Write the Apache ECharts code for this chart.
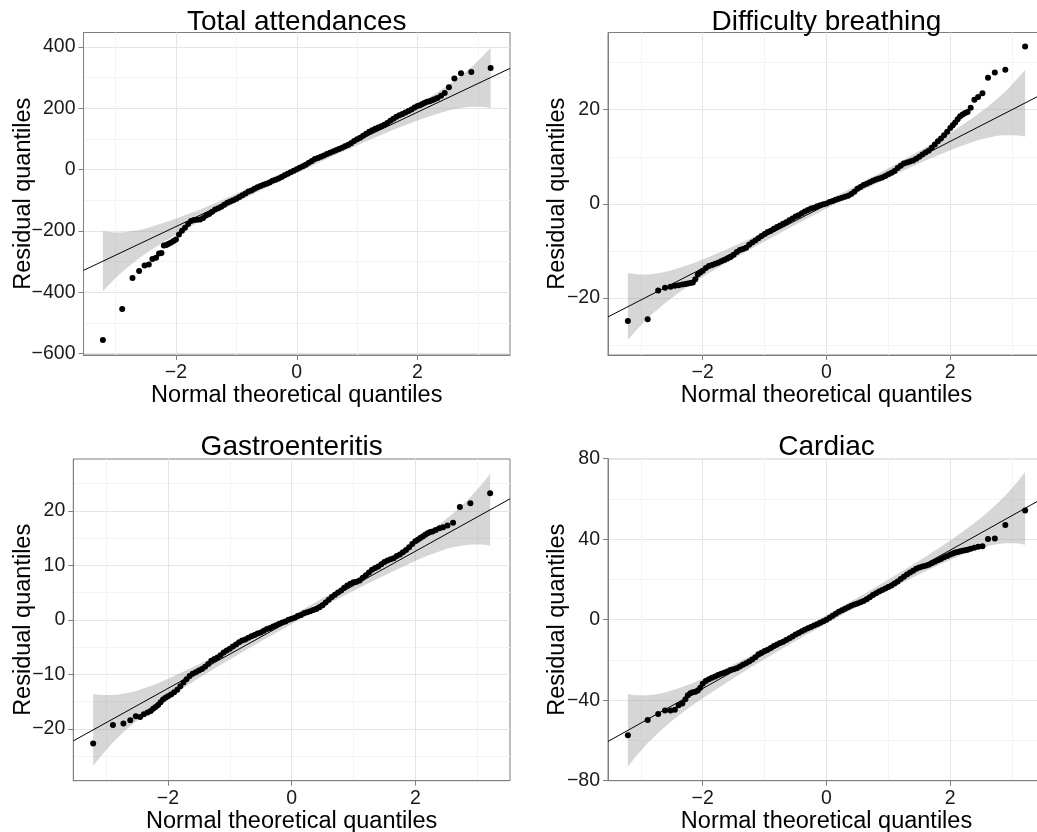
<!DOCTYPE html>
<html>
<head>
<meta charset="utf-8">
<title>Residual Q-Q plots</title>
<script src="https://cdn.jsdelivr.net/npm/echarts@6/dist/echarts.min.js"></script>
<style>
  html, body { margin: 0; padding: 0; background: #ffffff; }
  #chart { width: 1037px; height: 832px; }
</style>
</head>
<body>
<div id="chart"></div>
<script>
// ---------- data ----------
const panelTitles = ['Total attendances', 'Difficulty breathing', 'Gastroenteritis', 'Cardiac'];
const xAxisTitle = 'Normal theoretical quantiles';
const yAxisTitle = 'Residual quantiles';

// theoretical normal quantiles shared by all four panels
const theoreticalQuantiles = [
  -3.21, -2.89, -2.72, -2.61, -2.52, -2.45, -2.39, -2.33, -2.28, -2.24, -2.20, -2.16, -2.12, -2.08, -2.04,
  -2.00, -1.95, -1.90, -1.85, -1.80, -1.75, -1.70, -1.65, -1.60, -1.55, -1.50, -1.45, -1.40, -1.35, -1.30,
  -1.25, -1.20, -1.15, -1.10, -1.05, -1.00, -0.95, -0.90, -0.85, -0.80, -0.75, -0.70, -0.65, -0.60, -0.55,
  -0.50, -0.45, -0.40, -0.35, -0.30, -0.25, -0.20, -0.15, -0.10, -0.05, 0.00, 0.05, 0.10, 0.15, 0.20,
  0.25, 0.30, 0.35, 0.40, 0.45, 0.50, 0.55, 0.60, 0.65, 0.70, 0.75, 0.80, 0.85, 0.90, 0.95,
  1.00, 1.05, 1.10, 1.15, 1.20, 1.25, 1.30, 1.35, 1.40, 1.45, 1.50, 1.55, 1.60, 1.65, 1.70,
  1.75, 1.80, 1.85, 1.90, 1.95, 2.00,
  2.04, 2.08, 2.12, 2.16, 2.20, 2.24, 2.28, 2.33, 2.39, 2.45, 2.52, 2.61, 2.72, 2.89, 3.21
];

// residual quantiles, one array per outcome
const residTotal = [
  -556, -455, -354, -331, -313, -310, -292, -288, -274, -272, -248, -246, -242, -238, -233,
  -228, -212, -200, -190, -178, -168, -165, -164, -163, -158, -150, -145, -138, -130, -126,
  -121, -115, -108, -104, -100, -95, -90, -84, -78, -72, -68, -63, -58, -54, -50,
  -46, -42, -37, -33, -29, -24, -19, -14, -9, -4, 1, 6, 11, 16, 22,
  28, 34, 38, 42, 46, 51, 55, 59, 63, 67, 71, 76, 80, 86, 93,
  99, 104, 110, 117, 123, 128, 133, 137, 141, 146, 152, 159, 166, 172, 177,
  181, 186, 191, 196, 202, 207,
  210, 214, 218, 221, 223, 226, 229, 233, 241, 250, 268, 297, 314, 318, 331
];
const residBreathing = [
  -24.9, -24.5, -18.4, -17.8, -17.6, -17.4, -17.3, -17.1, -17.0, -16.9, -16.8, -16.7, -16.0, -15.0, -14.6,
  -14.2, -13.6, -13.2, -13.0, -12.7, -12.5, -12.2, -11.9, -11.6, -11.3, -10.8, -10.2, -9.8, -9.6, -9.3,
  -8.7, -8.2, -7.8, -7.3, -6.8, -6.4, -6.0, -5.7, -5.3, -4.9, -4.6, -4.2, -3.9, -3.5, -3.1,
  -2.7, -2.4, -2.0, -1.6, -1.3, -1.0, -0.8, -0.5, -0.3, -0.1, 0.1, 0.4, 0.6, 0.9, 1.1,
  1.3, 1.5, 1.7, 2.1, 2.6, 3.2, 3.6, 4.0, 4.3, 4.6, 4.9, 5.2, 5.4, 5.6, 5.9,
  6.3, 6.6, 7.0, 7.6, 8.1, 8.6, 8.8, 9.0, 9.2, 9.6, 10.0, 10.5, 10.9, 11.3, 11.9,
  12.6, 13.3, 13.9, 14.6, 15.3, 16.1,
  16.7, 17.3, 18.0, 18.6, 19.0, 19.3, 19.5, 20.4, 22.1, 22.7, 23.5, 26.8, 27.9, 28.5, 33.4
];
const residGastro = [
  -22.7, -19.3, -19.0, -18.4, -17.7, -17.8, -17.3, -17.0, -16.7, -16.3, -16.0, -15.6, -15.1, -14.6, -14.3,
  -14.0, -13.7, -13.3, -12.8, -12.2, -11.5, -10.9, -10.3, -9.9, -9.6, -9.3, -9.0, -8.6, -8.1, -7.5,
  -7.2, -6.9, -6.5, -6.0, -5.6, -5.3, -4.9, -4.5, -4.1, -3.8, -3.6, -3.3, -3.0, -2.8, -2.5,
  -2.3, -2.0, -1.7, -1.5, -1.2, -1.0, -0.7, -0.5, -0.3, 0.0, 0.2, 0.4, 0.7, 0.9, 1.2,
  1.4, 1.6, 1.8, 2.0, 2.3, 2.7, 3.2, 3.7, 4.2, 4.6, 5.0, 5.4, 5.9, 6.3, 6.6,
  6.9, 7.0, 7.2, 7.7, 8.2, 8.7, 9.2, 9.5, 9.8, 10.2, 10.6, 10.9, 11.1, 11.3, 11.7,
  12.0, 12.4, 12.8, 13.3, 13.9, 14.4,
  14.7, 15.0, 15.3, 15.6, 15.9, 16.1, 16.2, 16.5, 16.8, 17.0, 17.3, 17.8, 20.7, 21.4, 23.2
];
const residCardiac = [
  -57.4, -49.9, -46.9, -45.1, -45.1, -44.8, -42.5, -41.6, -39.5, -37.5, -36.6, -36.0, -35.8, -35.2, -33.8,
  -31.8, -30.4, -29.6, -28.9, -28.2, -27.5, -26.9, -26.3, -25.8, -25.0, -24.6, -24.1, -23.3, -22.4, -21.6,
  -20.8, -19.8, -18.6, -17.2, -16.4, -15.6, -14.9, -14.0, -13.1, -12.3, -11.6, -10.9, -10.1, -9.2, -8.4,
  -7.4, -6.6, -5.8, -5.0, -4.3, -3.6, -2.9, -2.2, -1.5, -0.8, 0.0, 1.0, 2.0, 3.0, 3.9,
  4.7, 5.5, 6.2, 6.9, 7.5, 8.1, 8.7, 9.3, 10.2, 11.2, 12.3, 13.2, 14.0, 14.8, 15.5,
  16.2, 17.0, 18.0, 19.0, 20.2, 21.4, 22.5, 23.4, 24.3, 25.3, 25.9, 26.4, 26.8, 27.3, 28.0,
  28.8, 29.5, 30.2, 31.0, 31.7, 32.4,
  32.9, 33.4, 33.7, 34.0, 34.3, 34.5, 34.8, 35.2, 35.8, 36.2, 36.5, 40.1, 40.4, 47.1, 54.2
];

// confidence envelope around the reference line
const bandX = [-3.21, -3.1, -3.0, -2.9, -2.8, -2.7, -2.6, -2.5, -2.4, -2.2, -2.0, -1.6, -1.2, -0.6, 0,
               0.6, 1.2, 1.6, 2.0, 2.2, 2.4, 2.5, 2.6, 2.7, 2.8, 2.9, 3.0, 3.1, 3.21];
const bandTotalLower = [-397, -374, -354, -336, -319, -303, -288, -274, -261, -236, -213, -169, -127, -68, -11,
                        44, 96, 130, 160, 174, 186, 192, 197, 200, 203, 205, 205, 204, 201];
const bandTotalUpper = [-201, -204, -205, -205, -203, -200, -197, -192, -186, -174, -160, -130, -96, -44, 11,
                        68, 127, 169, 213, 236, 261, 274, 288, 303, 319, 336, 354, 374, 397];
const bandBreathingLower = [-28.9, -27.2, -25.8, -24.4, -23.2, -22.1, -21.0, -20.0, -19.0, -17.2, -15.5, -12.4, -9.4, -5.1, -1.0,
                            3.0, 6.8, 9.2, 11.4, 12.4, 13.3, 13.7, 14.0, 14.3, 14.5, 14.6, 14.6, 14.5, 14.3];
const bandBreathingUpper = [-14.7, -14.9, -15.0, -15.0, -14.9, -14.7, -14.4, -14.1, -13.7, -12.8, -11.8, -9.6, -7.2, -3.4, 0.6,
                            4.7, 9.0, 12.0, 15.1, 16.8, 18.6, 19.6, 20.6, 21.7, 22.8, 24.0, 25.4, 26.8, 28.5];
const bandGastroLower = [-26.8, -25.2, -23.9, -22.6, -21.5, -20.4, -19.4, -18.5, -17.6, -15.9, -14.3, -11.4, -8.6, -4.6, -0.75,
                         3.0, 6.5, 8.7, 10.8, 11.8, 12.6, 13.0, 13.3, 13.5, 13.7, 13.8, 13.8, 13.8, 13.6];
const bandGastroUpper = [-13.6, -13.8, -13.8, -13.8, -13.7, -13.5, -13.3, -13.0, -12.6, -11.8, -10.8, -8.7, -6.5, -3.0, 0.75,
                         4.6, 8.6, 11.4, 14.3, 15.9, 17.6, 18.5, 19.4, 20.4, 21.5, 22.6, 23.9, 25.2, 26.8];
const bandCardiacLower = [-73.0, -68.7, -65.1, -61.7, -58.6, -55.7, -52.9, -50.3, -47.9, -43.3, -39.0, -30.9, -23.3, -12.3, -1.9,
                          8.3, 18.0, 24.1, 29.8, 32.4, 34.6, 35.6, 36.5, 37.2, 37.7, 38.0, 38.0, 37.9, 37.3];
const bandCardiacUpper = [-36.9, -37.5, -37.6, -37.6, -37.3, -36.8, -36.1, -35.2, -34.2, -32.0, -29.4, -23.7, -17.6, -7.9, 2.3,
                          12.7, 23.7, 31.3, 39.4, 43.7, 48.3, 50.7, 53.3, 56.1, 59.0, 62.1, 65.5, 69.1, 73.4];

// reference line: values at the two ends of the x range
const xLimits = [-3.531, 3.531];
const refLineTotal = [-329, 330];
const refLineBreathing = [-24.0, 23.6];
const refLineGastro = [-22.2, 22.2];
const refLineCardiac = [-60.5, 60.9];

// axis ranges and tick marks
const xTicks = [-2, 0, 2];
const xMinorTicks = [-3, -1, 1, 3];
const yLimitsTotal = [-605, 447];
const yLimitsBreathing = [-32.1, 36.4];
const yLimitsGastro = [-29.5, 29.5];
const yLimitsCardiac = [-80, 80];
const yTicksTotal = [-600, -400, -200, 0, 200, 400];
const yMinorTotal = [-500, -300, -100, 100, 300];
const yTicksBreathing = [-20, 0, 20];
const yMinorBreathing = [-30, -10, 10, 30];
const yTicksGastro = [-20, -10, 0, 10, 20];
const yMinorGastro = [-25, -15, -5, 5, 15, 25];
const yTicksCardiac = [-80, -40, 0, 40, 80];
const yMinorCardiac = [-60, -20, 20, 60];

// ---------- panel assembly ----------
const panels = [
  { title: panelTitles[0], resid: residTotal, lo: bandTotalLower, hi: bandTotalUpper, line: refLineTotal,
    yLim: yLimitsTotal, yTicks: yTicksTotal, yMinor: yMinorTotal,
    box: { left: 83.5, top: 32.5, width: 426.5, height: 322.5 }, yNameGap: 48, titleTop: 8 },
  { title: panelTitles[1], resid: residBreathing, lo: bandBreathingLower, hi: bandBreathingUpper, line: refLineBreathing,
    yLim: yLimitsBreathing, yTicks: yTicksBreathing, yMinor: yMinorBreathing,
    box: { left: 608, top: 32.5, width: 437, height: 322.5 }, yNameGap: 38, titleTop: 8 },
  { title: panelTitles[2], resid: residGastro, lo: bandGastroLower, hi: bandGastroUpper, line: refLineGastro,
    yLim: yLimitsGastro, yTicks: yTicksGastro, yMinor: yMinorGastro,
    box: { left: 73.3, top: 459, width: 436.7, height: 321.7 }, yNameGap: 38, titleTop: 433 },
  { title: panelTitles[3], resid: residCardiac, lo: bandCardiacLower, hi: bandCardiacUpper, line: refLineCardiac,
    yLim: yLimitsCardiac, yTicks: yTicksCardiac, yMinor: yMinorCardiac,
    box: { left: 608, top: 458.7, width: 437, height: 322 }, yNameGap: 38, titleTop: 433 }
];

const FONT = '"Liberation Sans", Arial, Helvetica, sans-serif';
const BORDER = '#7f7f7f';
const MAJOR = '#e5e5e5';
const MINOR = '#f4f4f4';
const minusSign = v => String(v).replace('-', '\u2212');

const grids = [], xAxes = [], yAxes = [], series = [], titles = [];

panels.forEach((p, i) => {
  grids.push(Object.assign({
    show: true, borderColor: BORDER, borderWidth: 1, backgroundColor: '#ffffff',
    containLabel: false, outerBoundsMode: 'none'
  }, p.box));

  titles.push({
    text: p.title, left: p.box.left + p.box.width / 2, top: p.titleTop, textAlign: 'center', padding: 0,
    textStyle: { fontFamily: FONT, fontSize: 28, fontWeight: 'normal', color: '#000000' }
  });

  // major axes carry ticks, labels and major grid lines
  xAxes.push({
    type: 'value', gridIndex: i, min: xLimits[0], max: xLimits[1], position: 'bottom',
    axisLine: { show: true, onZero: false, lineStyle: { color: BORDER, width: 1 } },
    axisTick: { show: true, length: 5, lineStyle: { color: BORDER, width: 1 }, customValues: xTicks },
    axisLabel: { customValues: xTicks, formatter: minusSign, color: '#1a1a1a', fontSize: 19.5, fontFamily: FONT, margin: 8 },
    splitLine: { show: true, lineStyle: { color: MAJOR, width: 1 } },
    name: xAxisTitle, nameLocation: 'middle', nameGap: 23,
    nameTextStyle: { fontFamily: FONT, fontSize: 23.5, color: '#000000' }
  });
  yAxes.push({
    type: 'value', gridIndex: i, min: p.yLim[0], max: p.yLim[1], position: 'left',
    axisLine: { show: true, onZero: false, lineStyle: { color: BORDER, width: 1 } },
    axisTick: { show: true, length: 5, lineStyle: { color: BORDER, width: 1 }, customValues: p.yTicks },
    axisLabel: { customValues: p.yTicks, formatter: minusSign, color: '#1a1a1a', fontSize: 19.5, fontFamily: FONT, margin: 8 },
    splitLine: { show: true, lineStyle: { color: MAJOR, width: 1 } },
    name: yAxisTitle, nameLocation: 'middle', nameGap: p.yNameGap, nameMoveOverlap: false,
    nameTextStyle: { fontFamily: FONT, fontSize: 23.5, color: '#000000' }
  });
  // companion axes draw the minor grid lines only
  xAxes.push({
    type: 'value', gridIndex: i, min: xLimits[0], max: xLimits[1], position: 'bottom',
    axisLine: { show: false }, axisTick: { show: false, customValues: xMinorTicks },
    axisLabel: { show: false, customValues: xMinorTicks },
    splitLine: { show: true, lineStyle: { color: MINOR, width: 1 } }
  });
  yAxes.push({
    type: 'value', gridIndex: i, min: p.yLim[0], max: p.yLim[1], position: 'left',
    axisLine: { show: false }, axisTick: { show: false, customValues: p.yMinor },
    axisLabel: { show: false, customValues: p.yMinor },
    splitLine: { show: true, lineStyle: { color: MINOR, width: 1 } }
  });

  const xi = i * 2, yi = i * 2;

  // shaded envelope
  series.push({
    type: 'custom', xAxisIndex: xi, yAxisIndex: yi, silent: true, z: 1,
    data: [[0, 0]],
    renderItem: (params, api) => {
      const pts = [];
      for (let k = 0; k < bandX.length; k++) pts.push(api.coord([bandX[k], p.hi[k]]));
      for (let k = bandX.length - 1; k >= 0; k--) pts.push(api.coord([bandX[k], p.lo[k]]));
      return { type: 'polygon', shape: { points: pts }, style: { fill: 'rgba(153,153,153,0.4)', stroke: null } };
    }
  });

  // reference line
  series.push({
    type: 'line', xAxisIndex: xi, yAxisIndex: yi, silent: true, z: 2,
    data: [[xLimits[0], p.line[0]], [xLimits[1], p.line[1]]],
    symbol: 'none', lineStyle: { color: '#000000', width: 1 }
  });

  // sample quantiles
  series.push({
    type: 'scatter', xAxisIndex: xi, yAxisIndex: yi, silent: true, z: 3,
    data: theoreticalQuantiles.map((q, k) => [q, p.resid[k]]),
    symbol: 'circle', symbolSize: 6,
    itemStyle: { color: '#000000', opacity: 1 }
  });
});

const chart = echarts.init(document.getElementById('chart'), null, { renderer: 'canvas' });
chart.setOption({
  animation: false,
  backgroundColor: '#ffffff',
  title: titles,
  grid: grids,
  xAxis: xAxes,
  yAxis: yAxes,
  series: series
});
</script>
</body>
</html>
